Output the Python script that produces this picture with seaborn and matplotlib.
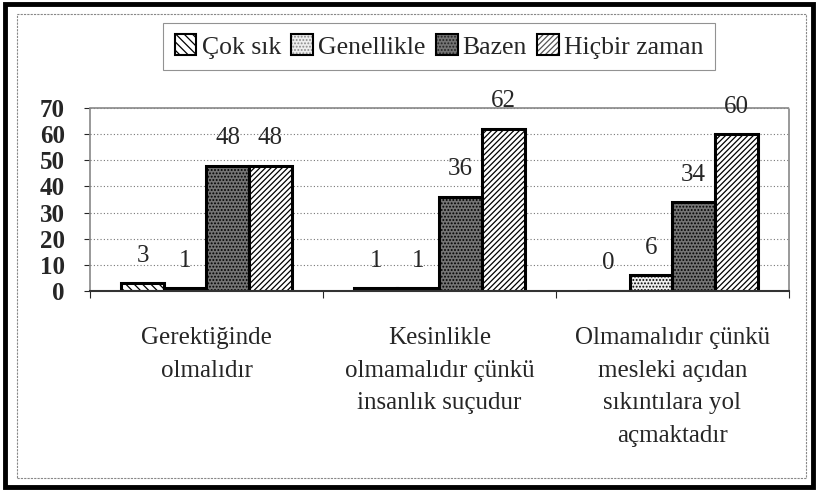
import matplotlib
matplotlib.use('Agg')
import matplotlib.pyplot as plt
import matplotlib.patches as mpatches
import numpy as np
import pandas as pd
import seaborn as sns

# ── Data ──────────────────────────────────────────────────────
categories = [
    "Gerektiğinde\nolmalıdır",
    "Kesinlikle\nolmamalıdır çünkü\ninsanlık suçudur",
    "Olmamalıdır çünkü\nmesleki açıdan\nsıkıntılara yol\naçmaktadır",
]
series = ["Çok sık", "Genellikle", "Bazen", "Hiçbir zaman"]
cok_sik = [3, 1, 0]
genellikle = [1, 1, 6]
bazen = [48, 36, 34]
hicbir_zaman = [48, 62, 60]
y_ticks = [0, 10, 20, 30, 40, 50, 60, 70]

df = pd.DataFrame({
    "kategori": categories * 4,
    "seri": np.repeat(series, len(categories)),
    "deger": cok_sik + genellikle + bazen + hicbir_zaman,
})

# ── Styling ───────────────────────────────────────────────────
sns.set_style("white")
plt.rcParams['font.family'] = 'serif'
plt.rcParams['font.serif'] = ['Liberation Serif', 'Times New Roman', 'DejaVu Serif']
plt.rcParams['hatch.linewidth'] = 0.9

faces = ['white', '#eeeeee', '#747474', 'white']
hatches = ['\\\\\\\\', '.....', '.....', '//////']
hatch_cols = ['black', '#8a8a8a', '#222222', '#555555']

fig = plt.figure(figsize=(8.18, 4.95), dpi=100)
ax = fig.add_axes([0.110, 0.412, 0.8545, 0.3697])

sns.barplot(data=df, x="kategori", y="deger", hue="seri",
            order=categories, hue_order=series,
            width=0.73, gap=0, legend=False, ax=ax,
            edgecolor='black', linewidth=2.2)

for i, cont in enumerate(ax.containers):
    for bar in cont:
        bar.set_facecolor(faces[i])
        bar.set_hatch(hatches[i])
        bar._hatch_color = matplotlib.colors.to_rgba(hatch_cols[i])
        bar.set_edgecolor('black')
    ax.bar_label(cont, fmt='%d', padding=12, fontsize=18)

# ── Axes ──────────────────────────────────────────────────────
ax.set_ylim(0, 70)
ax.set_xlim(-0.5, 2.5)
ax.set_yticks(y_ticks)
ax.set_yticklabels([str(t) for t in y_ticks], fontsize=18, fontweight='bold')
ax.tick_params(axis='y', length=4, width=0.8, pad=14, left=True)
ax.set_xticks(range(len(categories)))
ax.set_xticklabels(categories, fontsize=18, linespacing=1.62, va='top')
ax.tick_params(axis='x', length=0, pad=26)
ax.set_xticks([-0.5, 0.5, 1.5, 2.5], minor=True)
ax.tick_params(axis='x', which='minor', length=5, width=0.8, bottom=True)
ax.set_xlabel("")
ax.set_ylabel("")

ax.yaxis.grid(True, linestyle=(0, (1, 2)), color='#777777', linewidth=0.8)
ax.set_axisbelow(True)
for side in ['top', 'right', 'left']:
    ax.spines[side].set_linestyle((0, (1, 1)))
    ax.spines[side].set_color('#888888')
    ax.spines[side].set_linewidth(1.2)
ax.spines['bottom'].set_color('#333333')
ax.spines['bottom'].set_linewidth(1.5)

# ── Legend ────────────────────────────────────────────────────
handles = [mpatches.Patch(facecolor=faces[i], hatch=hatches[i],
                          edgecolor='black', linewidth=1.5)
           for i in range(len(series))]
leg = fig.legend(handles, series, loc='center', ncol=4,
                 bbox_to_anchor=(0.537, 0.906), fontsize=18.5,
                 frameon=True, fancybox=False, handlelength=0.85,
                 handleheight=0.85, handletextpad=0.2, columnspacing=0.4,
                 borderpad=0.45, borderaxespad=0)
leg.get_frame().set_edgecolor('#777777')
leg.get_frame().set_linewidth(0.8)
for i, h in enumerate(leg.legend_handles):
    h._hatch_color = matplotlib.colors.to_rgba(hatch_cols[i])

# ── Outer frames ──────────────────────────────────────────────
fig.patches.append(mpatches.Rectangle((0.021, 0.034), 0.964, 0.937,
                                      transform=fig.transFigure, fill=False,
                                      edgecolor='#888888', linewidth=0.8,
                                      linestyle=(0, (2, 1))))
fig.patches.append(mpatches.Rectangle((0.006, 0.016), 0.988, 0.975,
                                      transform=fig.transFigure, fill=False,
                                      edgecolor='black', linewidth=3.5))

fig.savefig("out.png", dpi=100)
plt.close(fig)
